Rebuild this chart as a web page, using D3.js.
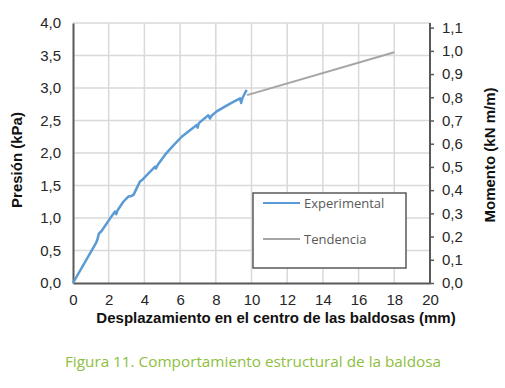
<!DOCTYPE html>
<html><head><meta charset="utf-8">
<script src="https://cdn.jsdelivr.net/npm/d3@7"></script>
<style>body{margin:0;background:#fff}svg{display:block}</style>
</head><body>
<script>
// ---- data ----
const expX = [0,1.3,1.38,1.45,1.6,1.8,2.07,2.35,2.42,2.5,2.82,3.1,3.28,3.4,3.57,3.75,3.85,4.2,4.6,4.65,4.75,5.15,5.6,6.09,6.5,6.93,6.98,7.05,7.58,7.68,7.75,8.05,8.8,9.36,9.42,9.5,9.73];
const expY = [0,0.62,0.68,0.76,0.80,0.88,0.99,1.10,1.06,1.12,1.25,1.33,1.34,1.36,1.46,1.56,1.58,1.68,1.79,1.76,1.82,1.97,2.11,2.25,2.34,2.43,2.39,2.46,2.58,2.53,2.57,2.64,2.76,2.84,2.77,2.85,2.97];
const trendX = [9.75, 18];
const trendY = [2.89, 3.55];
const xTicks = [0,2,4,6,8,10,12,14,16,18,20];
const yTicks = [0,0.5,1,1.5,2,2.5,3,3.5,4];
const y2Ticks = [0,0.1,0.2,0.3,0.4,0.5,0.6,0.7,0.8,0.9,1.0,1.1];
const seriesNames = ["Experimental","Tendencia"];
const seriesColors = ["#5b9bd5","#a5a5a5"];
const xTitle = "Desplazamiento en el centro de las baldosas (mm)";
const yTitle = "Presión (kPa)";
const y2Title = "Momento (kN m/m)";
const caption = "Figura 11. Comportamiento estructural de la baldosa";

const W=505,H=388;
const L=73,R=430,T=23,B=283;
const FF="Liberation Sans, Arial, sans-serif";
const svg=d3.select("body").append("svg").attr("width",W).attr("height",H);
const x=d3.scaleLinear().domain([0,20]).range([L,R]);
const y=d3.scaleLinear().domain([0,4]).range([B,T]);
const y2=d3.scaleLinear().domain([0,1.12]).range([B,T]);
const fmt=d=>d3.format(".1f")(d).replace(".",",");

// grid
svg.append("g").selectAll("line").data(xTicks.slice(1)).join("line")
  .attr("x1",d=>x(d)).attr("x2",d=>x(d)).attr("y1",T).attr("y2",B)
  .attr("stroke","#d9d9d9").attr("stroke-width",1.5);
svg.append("g").selectAll("line").data(yTicks.slice(1)).join("line")
  .attr("x1",L).attr("x2",R).attr("y1",d=>y(d)).attr("y2",d=>y(d))
  .attr("stroke","#d9d9d9").attr("stroke-width",1.5);

// axes
const axCol="#595959";
const gx=svg.append("g").attr("transform",`translate(0,${B})`)
  .call(d3.axisBottom(x).tickValues(xTicks).tickSize(0).tickFormat(d3.format("d")));
gx.select(".domain").attr("stroke",axCol).attr("stroke-width",2);
gx.selectAll("text").attr("dy",0).attr("y",22).attr("font-family",FF).attr("font-size",15).attr("fill","#262626");

const gy=svg.append("g").attr("transform",`translate(${L},0)`)
  .call(d3.axisLeft(y).tickValues(yTicks).tickSize(0).tickFormat(fmt));
gy.select(".domain").attr("stroke",axCol).attr("stroke-width",2);
gy.selectAll("text").attr("x",-12).attr("font-family",FF).attr("font-size",15).attr("fill","#262626");

const gy2=svg.append("g").attr("transform",`translate(${R},0)`)
  .call(d3.axisRight(y2).tickValues(y2Ticks).tickSize(4).tickFormat(fmt));
gy2.select(".domain").attr("stroke",axCol).attr("stroke-width",2).attr("d",`M0,${B}V${T}`);
gy2.selectAll(".tick line").attr("stroke",axCol).attr("stroke-width",1.5);
gy2.selectAll("text").attr("x",12).attr("font-family",FF).attr("font-size",15).attr("fill","#262626");

// lines
const line=d3.line().x(d=>x(d[0])).y(d=>y(d[1]));
svg.append("path").datum(trendX.map((v,i)=>[v,trendY[i]])).attr("d",line)
  .attr("fill","none").attr("stroke",seriesColors[1]).attr("stroke-width",2);
svg.append("path").datum(expX.map((v,i)=>[v,expY[i]])).attr("d",line)
  .attr("fill","none").attr("stroke",seriesColors[0]).attr("stroke-width",2.5).attr("stroke-linejoin","round");

// legend
const lg=svg.append("g");
lg.append("rect").attr("x",253).attr("y",193).attr("width",153).attr("height",75)
  .attr("fill","#fff").attr("stroke",axCol).attr("stroke-width",1.5);
seriesNames.forEach((n,i)=>{
  const yy=203+i*36;
  lg.append("line").attr("x1",263).attr("x2",300).attr("y1",yy).attr("y2",yy)
    .attr("stroke",seriesColors[i]).attr("stroke-width",2);
  lg.append("text").attr("x",304).attr("y",yy).attr("dy","0.35em")
    .attr("font-family","Open Sans, Noto Sans, sans-serif").attr("font-size",13).attr("fill","#595959").text(n);
});

// titles
svg.append("text").attr("x",276).attr("y",323).attr("text-anchor","middle")
  .attr("font-family",FF).attr("font-weight","bold").attr("font-size",15).attr("fill","#111").text(xTitle);
svg.append("text").attr("transform","translate(22,160) rotate(-90)").attr("text-anchor","middle")
  .attr("font-family",FF).attr("font-weight","bold").attr("font-size",15).attr("fill","#111").text(yTitle);
svg.append("text").attr("transform","translate(495,155) rotate(-90)").attr("text-anchor","middle")
  .attr("font-family",FF).attr("font-weight","bold").attr("font-size",15).attr("fill","#111").text(y2Title);
svg.append("text").attr("x",253).attr("y",367).attr("text-anchor","middle")
  .attr("font-family","Open Sans, Noto Sans, sans-serif").attr("font-size",15.3).attr("fill","#8cc03e").text(caption);
</script>
</body></html>
